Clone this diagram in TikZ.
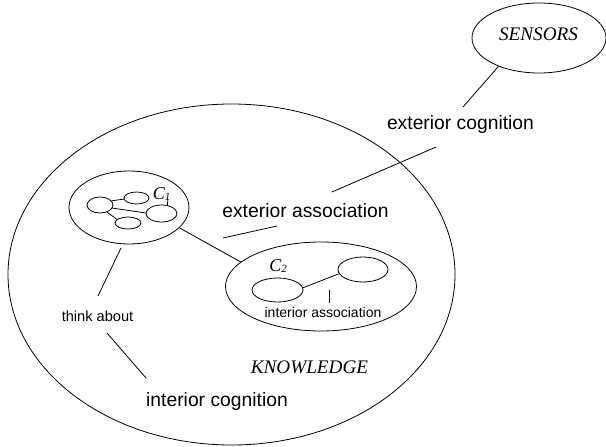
\documentclass[tikz,border=0pt]{standalone}
\usepackage{fontspec}
\setmainfont{Liberation Sans}
\newfontfamily\timesfont{Liberation Serif}
\usetikzlibrary{shapes.geometric}
\begin{document}
\begin{tikzpicture}[x=1pt,y=-1pt,line width=0.8pt,
  oval/.style={draw,ellipse,inner sep=0pt},
  biglab/.style={font=\fontsize{19.3}{22}\selectfont,inner sep=0pt,anchor=base},
  smalllab/.style={font=\fontsize{14.6}{16}\selectfont,inner sep=0pt,anchor=base},
  seriflab/.style={font=\timesfont\itshape\fontsize{19.2}{22}\selectfont,inner sep=0pt,anchor=base},
  clab/.style={font=\timesfont\itshape\fontsize{18}{20}\selectfont,inner sep=0pt,anchor=base west}]
\useasboundingbox (0,0) rectangle (606,447);
% main ellipses
\node[oval,minimum width=447pt,minimum height=341pt] (know) at (231.5,274.5) {};
\node[oval,minimum width=134pt,minimum height=70pt] (sensors) at (539,38) {};
\node[seriflab] (sensorslab) at (538.5,41) {SENSORS};
% C1 cluster
\node[oval,minimum width=120pt,minimum height=73pt] (c1) at (129,207.5) {};
\node[oval,minimum width=26pt,minimum height=16pt] (c1l) at (100,205) {};
\node[oval,minimum width=25pt,minimum height=12pt] (c1t) at (136.5,198) {};
\node[oval,minimum width=31pt,minimum height=17pt] (c1r) at (161.5,213.5) {};
\node[oval,minimum width=26pt,minimum height=12pt] (c1b) at (128,223) {};
\node[clab] (c1lab) at (152.5,199) {C{\fontsize{11}{11}\selectfont\raisebox{-1.3pt}{1}}};
\coordinate (c1tick) at (168,199);
\draw (c1l.20) -- (c1t.185);
\draw (c1l.-14) -- (c1r.178);
\draw (c1l.-45) -- (c1b.162);
\draw (c1r.55) -- (c1tick);
% C2 cluster
\node[oval,minimum width=191pt,minimum height=89pt] (c2) at (321,286.5) {};
\node[oval,minimum width=51pt,minimum height=24pt] (c2l) at (277.5,290) {};
\node[oval,minimum width=50pt,minimum height=25pt] (c2r) at (363,269.5) {};
\node[clab] (c2lab) at (269,271) {C{\fontsize{11}{11}\selectfont\raisebox{-1.3pt}{2}}};
\draw (c2l.5) -- (c2r.190);
\node[smalllab,font=\fontsize{14}{16}\selectfont] (iassoc) at (323,317.5) {interior association};
\coordinate (ia1) at (329,290);
\coordinate (ia2) at (329,303);
\draw (ia1) -- (ia2);
% C1 - C2
\draw (c1.-22) -- (c2.163);
% labels
\node[biglab] (ecog) at (460.5,129) {exterior cognition};
\node[biglab] (eassoc) at (305.5,217.5) {exterior association};
\node[biglab] (icog) at (217,406.5) {interior cognition};
\node[smalllab] (think) at (97.5,321) {think about};
\node[seriflab] (klab) at (309.5,373) {KNOWLEDGE};
% connectors with free ends
\coordinate (p1) at (463,107);
\draw (sensors.215) -- (p1);
\coordinate (p2) at (436,147);
\coordinate (p3) at (332,192);
\draw (p2) -- (p3);
\coordinate (p4) at (223,238);
\coordinate (p5) at (277,226);
\draw (p4) -- (p5);
\coordinate (p6) at (121,248);
\coordinate (p7) at (98,296);
\draw (p6) -- (p7);
\coordinate (p8) at (107,333);
\coordinate (p9) at (146,378);
\draw (p8) -- (p9);
\end{tikzpicture}
\end{document}
